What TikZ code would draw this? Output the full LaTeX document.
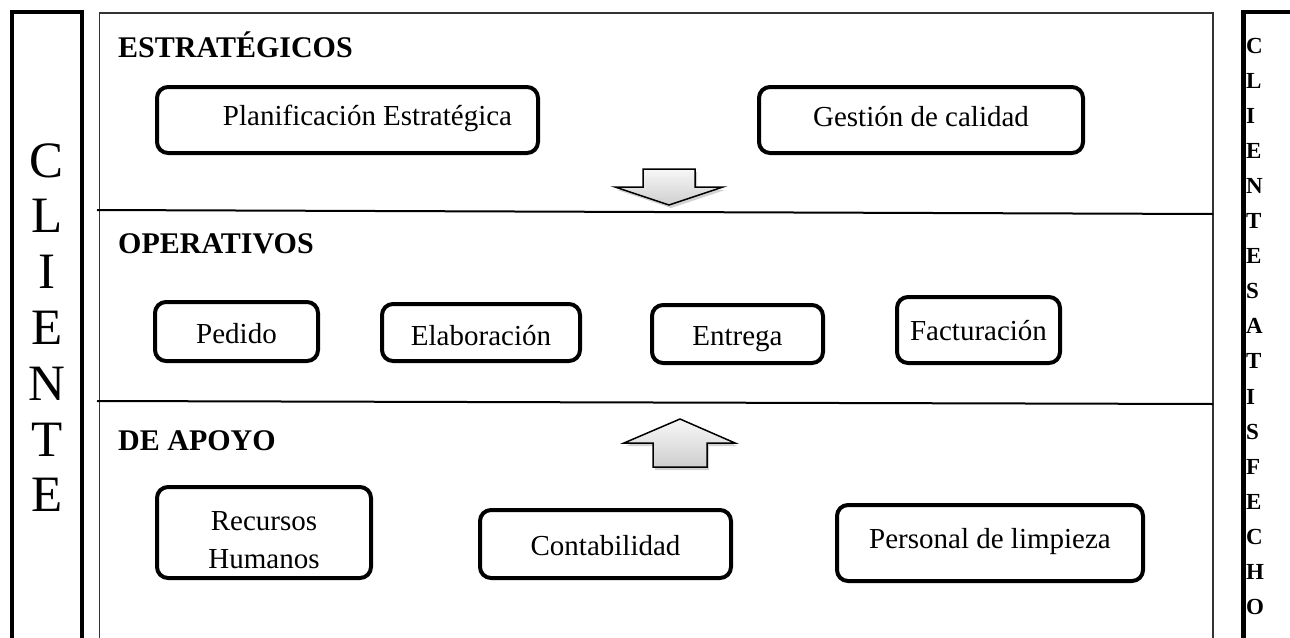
\documentclass[tikz,border=0pt]{standalone}
\usepackage{fontspec}
\setmainfont{Liberation Serif}
\usetikzlibrary{shadows}
\begin{document}
\begin{tikzpicture}[x=1pt,y=-1pt,
  proc/.style={draw, line width=4pt, rounded corners=11pt, align=center, inner sep=0pt, font=\fontsize{29}{35}\selectfont},
  hdr/.style={anchor=base west, font=\bfseries\fontsize{30}{34}\selectfont, inner sep=0pt},
  bigarrow/.style={draw=black, line width=1.5pt, top color=gray!6, bottom color=gray!38, drop shadow={shadow xshift=2pt, shadow yshift=-3pt, opacity=0.35}},
  thickframe/.style={draw=black, line width=4.5pt},
  thinframe/.style={draw=black!80, line width=1.5pt},
  sep/.style={draw=black, line width=2pt},
  lletter/.style={anchor=base, inner sep=0pt, font=\fontsize{51}{56}\selectfont},
  rletter/.style={anchor=base west, inner sep=0pt, font=\bfseries\fontsize{23}{24}\selectfont}
]
\useasboundingbox (0,0) rectangle (1290,637);
\fill[white] (0,0) rectangle (1290,637);

% outer frames
\draw[thickframe] (12,660) -- (12,12) -- (82,12) -- (82,660);
\draw[thickframe] (1243.5,660) -- (1243.5,12) -- (1310,12);
\draw[thinframe] (99.5,660) -- (99.5,13) -- (1213,13) -- (1213,660);

% separators
\coordinate (s1a) at (97,210); \coordinate (s1b) at (1213,214);
\coordinate (s2a) at (97,401); \coordinate (s2b) at (1213,404);
\draw[sep] (s1a) -- (s1b);
\draw[sep] (s2a) -- (s2b);

% left column letters
\foreach \l [count=\i] in {C,L,I,E,N,T,E}
  \node[lletter] (cl\i) at (47, 177+55.83*\i-55.83) {\l};

% right column letters
\foreach \l [count=\i] in {C,L,I,E,N,T,E,S,A,T,I,S,F,E,C,H,O}
  \node[rletter] (cs\i) at (1246, 53+35.1*\i-35.1) {\l};

% headings
\node[hdr] (h1) at (118,57) {ESTRATÉGICOS};
\node[hdr] (h2) at (118,253) {OPERATIVOS};
\node[hdr] (h3) at (118,450) {DE APOYO};

% estrategicos
\node[proc, minimum width=381pt, minimum height=66pt, text height=18pt, text depth=8pt] (plan) at (347.5,120) {\hspace*{40pt}Planificación Estratégica};
\node[proc, minimum width=324pt, minimum height=66pt, text height=19pt, text depth=7pt] (gest) at (921,120) {Gestión de calidad};

% operativos
\node[proc, minimum width=163pt, minimum height=59pt, text height=24.5pt, text depth=1.5pt] (ped) at (236.5,331.5) {Pedido};
\node[proc, minimum width=198pt, minimum height=57pt, text height=25.5pt, text depth=0.5pt] (elab) at (481,332.5) {Elaboración};
\node[proc, minimum width=171pt, minimum height=58pt, text height=24pt, text depth=2pt] (entr) at (737.5,334) {Entrega};
\node[proc, minimum width=163pt, minimum height=66pt, text height=23pt, text depth=3pt] (fact) at (978.5,330) {Facturación};

% apoyo
\node[proc, minimum width=214pt, minimum height=91pt] (rrhh) at (264,532.5) {\raisebox{-16pt}[0pt][0pt]{\fontsize{29}{38}\selectfont\begin{tabular}{@{}c@{}}Recursos\\Humanos\end{tabular}}};
\node[proc, minimum width=251pt, minimum height=68pt, text height=24pt, text depth=2pt] (cont) at (605.5,544) {Contabilidad};
\node[proc, minimum width=306pt, minimum height=76pt, text height=18pt, text depth=8pt] (pers) at (990,543) {Personal de limpieza};

% arrows
\path[bigarrow] (643,169) -- (695,169) -- (695,187) -- (723,187) -- (669,205) -- (615,187) -- (643,187) -- cycle;
\path[bigarrow] (680,419) -- (735,443) -- (707,443) -- (707,467) -- (653,467) -- (653,443) -- (624,443) -- cycle;
\end{tikzpicture}
\end{document}
